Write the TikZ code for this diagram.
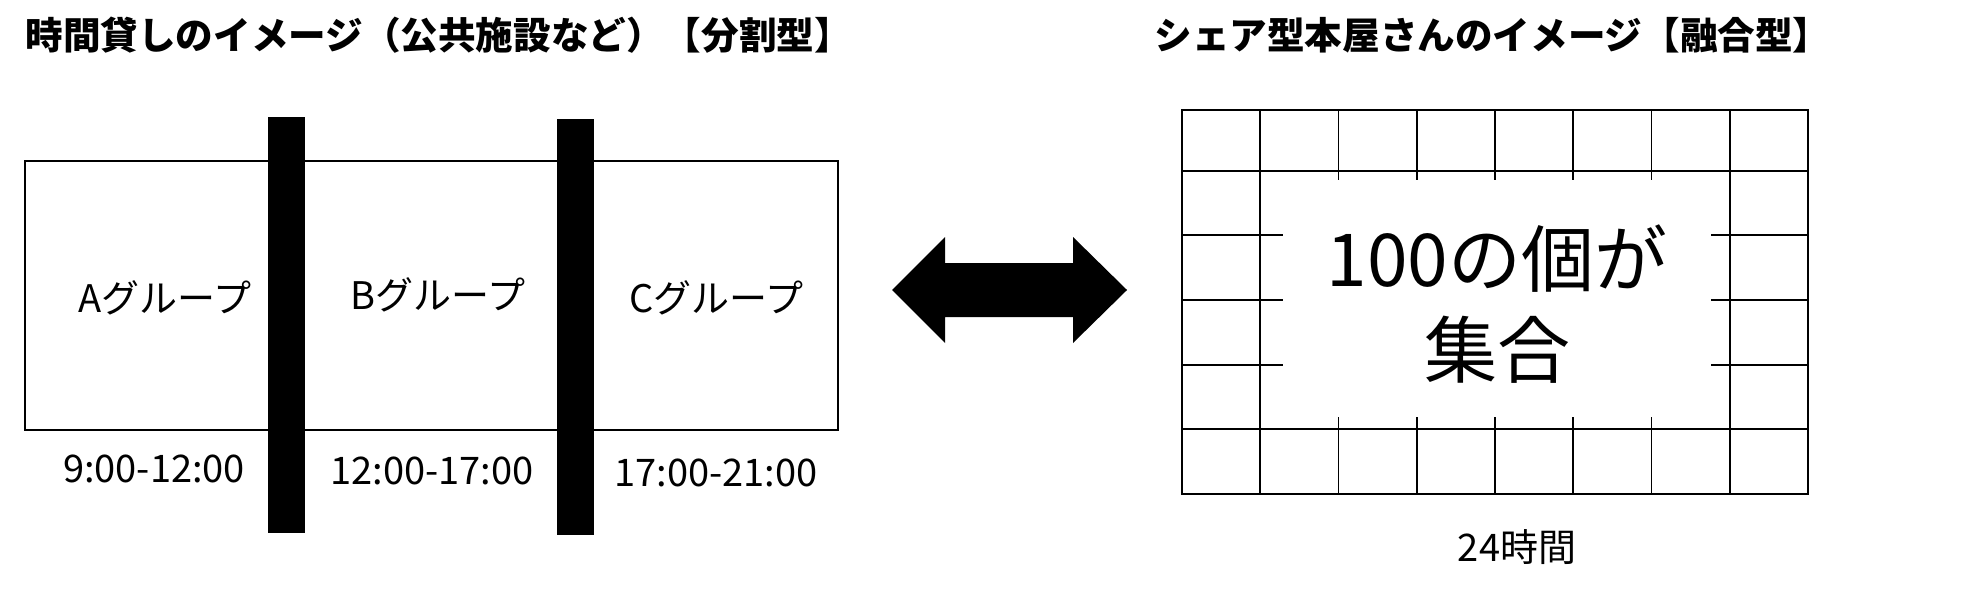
\documentclass[tikz,border=0pt]{standalone}
\usepackage{fontspec}
\setmainfont{Noto Sans CJK JP}
\usetikzlibrary{positioning}

\begin{document}
\begin{tikzpicture}[x=0.5pt,y=-0.5pt,
  hd/.style={anchor=west,inner sep=0pt,font=\fontsize{18.8}{22}\selectfont\bfseries},
  grp/.style={inner sep=0pt,font=\fontsize{19}{22}\selectfont},
  slot/.style={inner sep=0pt,font=\fontsize{19}{22}\selectfont},
  wall/.style={rectangle,fill=black,inner sep=0pt,minimum width=18.5pt,minimum height=208pt},
  cell/.style={line width=0.9pt}]
  \useasboundingbox (0,0) rectangle (1962,594);

  % titles
  \node[hd] (tl) at (25,35) {時間貸しのイメージ（公共施設など）【分割型】};
  \node[hd] (tr) at (1154,35) {シェア型本屋さんのイメージ【融合型】};

  % divided room
  \node[draw,line width=1.2pt,inner sep=0pt,minimum width=406.5pt,minimum height=134.5pt] (room) at (431.5,295.5) {};
  \node[wall] (w1) at (286.5,325) {};
  \node[wall] (w2) at (575.5,327) {};
  \node[grp] (ga) at (165,298) {Aグループ};
  \node[grp] (gb) at (438,295) {Bグループ};
  \node[grp] (gc) at (716,298) {Cグループ};
  \node[slot] (ta) at (154,469) {9:00-12:00};
  \node[slot] (tb) at (432,471) {12:00-17:00};
  \node[slot] (tc) at (716,473) {17:00-21:00};

  % double arrow
  \fill (892,290) -- (945,237) -- (945,263) -- (1073,263) -- (1073,237) -- (1127,290)
    -- (1073,343) -- (1073,317) -- (945,317) -- (945,343) -- cycle;

  % shared shelves
  \draw[cell] (1182,110) rectangle (1808,494);
  \foreach \i in {1,...,7}
    \draw[cell] (1182+\i*78.25,110) -- (1182+\i*78.25,494);
  \foreach \y in {171,235,300,365,429}
    \draw[cell] (1182,\y) -- (1808,\y);
  \fill[white] (1283,180) rectangle (1711,417);
  \node[inner sep=0pt,align=center,font=\fontsize{36.5}{45.5}\selectfont] (core) at (1497,304) {100の個が\\集合};
  \node[slot] (hrs) at (1517,547) {24時間};
\end{tikzpicture}
\end{document}
